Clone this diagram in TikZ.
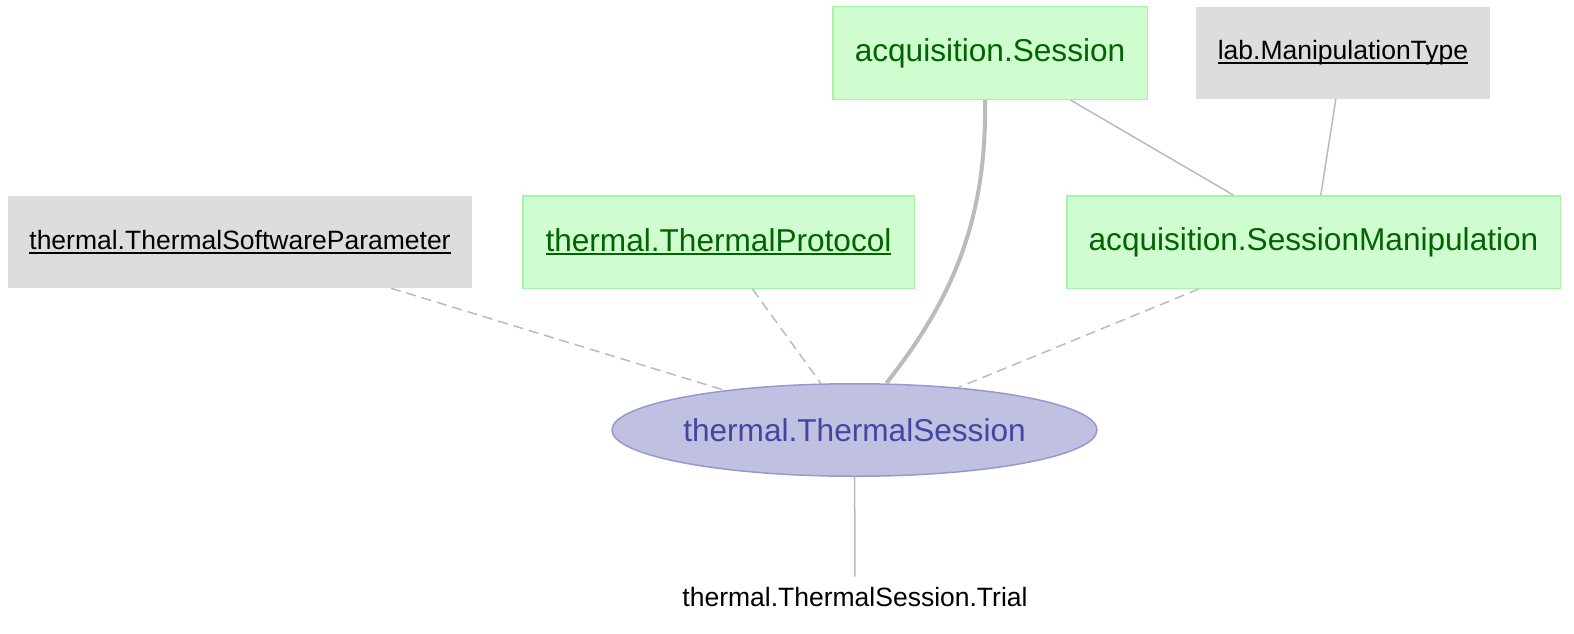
\documentclass[tikz,border=0pt]{standalone}
\usepackage{fontspec}
\setmainfont{Liberation Sans}
\usetikzlibrary{shapes.geometric}

\definecolor{boxgray}{HTML}{DDDDDD}
\definecolor{partfill}{HTML}{D0FDD0}
\definecolor{partline}{HTML}{A4F5A4}
\definecolor{parttext}{HTML}{006400}
\definecolor{mainfill}{HTML}{C0C0E0}
\definecolor{mainline}{HTML}{9898D0}
\definecolor{maintext}{HTML}{4444A4}
\definecolor{edgegray}{HTML}{BBBBBB}

\newcommand{\bigtxt}{\fontsize{31.6}{38}\selectfont}
\newcommand{\smalltxt}{\fontsize{26.5}{32}\selectfont}
\newcommand{\undl}[1]{\setbox0\hbox{#1}\rlap{\rule[-4pt]{\wd0}{2pt}}\box0}

\begin{document}
\begin{tikzpicture}[x=1pt,y=-1pt,
  partbox/.style={draw=partline,line width=1.5pt,fill=partfill,text=parttext,font=\bigtxt,minimum height=92.5pt},
  lookbox/.style={fill=boxgray,text=black,font=\smalltxt,minimum height=92pt},
  mainnode/.style={ellipse,draw=mainline,line width=1.5pt,fill=mainfill,text=maintext,font=\bigtxt,minimum width=485pt,minimum height=92.5pt,inner sep=0pt},
  partnode/.style={font=\smalltxt,text=black},
  link/.style={draw=edgegray,line width=1.5pt},
  dashlink/.style={link,dash pattern=on 10pt off 6pt}]
\useasboundingbox (0,0) rectangle (1574,634);

% tables
\node[partbox,minimum width=314.5pt] (sess) at (990,53) {acquisition.Session};
\node[lookbox,minimum width=294pt] (mtype) at (1343,53) {\undl{lab.ManipulationType}};
\node[lookbox,minimum width=464pt] (param) at (240,242) {\undl{thermal.ThermalSoftwareParameter}};
\node[partbox,minimum width=391.5pt] (proto) at (718.5,242) {\undl{thermal.ThermalProtocol}};
\node[partbox,minimum width=493.5pt] (manip) at (1313.5,242) {acquisition.SessionManipulation};
\node[mainnode] (therm) at (854.5,430) {thermal.ThermalSession};
\node[partnode] (trial) at (855,597) {thermal.ThermalSession.Trial};

% links
\draw[link,line width=4pt] ([xshift=-5pt]sess.south) .. controls (987,220) and (952,300) .. ([xshift=32pt]therm.north);
\draw[link] (sess) -- (manip);
\draw[link] (mtype) -- (manip);
\draw[dashlink] (param) -- (therm);
\draw[dashlink] (proto) -- (therm);
\draw[dashlink] (manip) -- (therm);
\draw[link,shorten >=7pt] (therm) -- (trial);

\end{tikzpicture}
\end{document}
